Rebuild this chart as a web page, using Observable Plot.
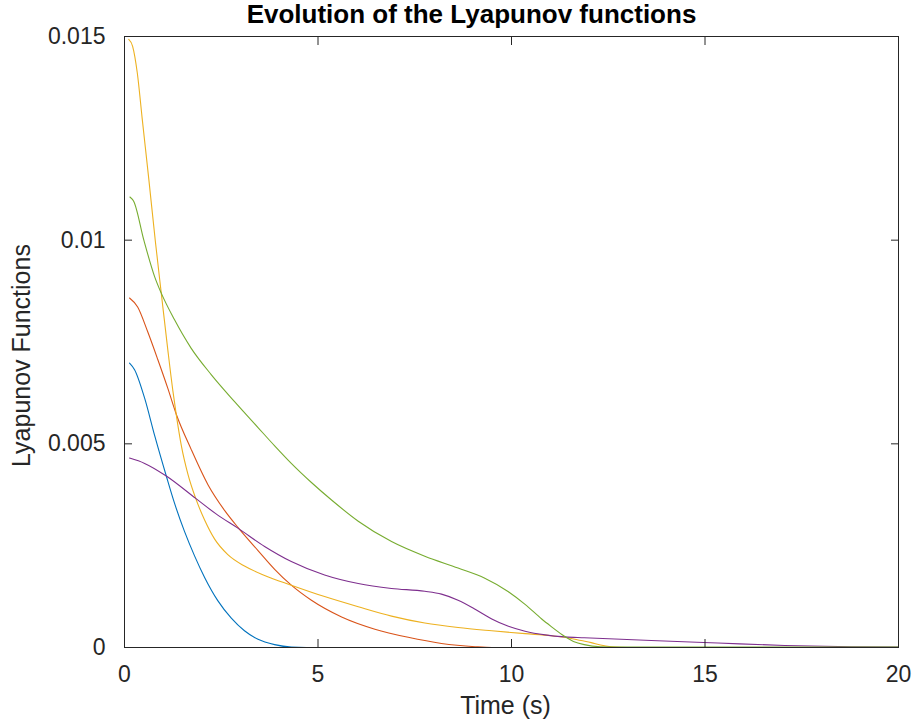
<!DOCTYPE html>
<html><head><meta charset="utf-8">
<script src="https://cdn.jsdelivr.net/npm/d3@7"></script>
<script src="https://cdn.jsdelivr.net/npm/@observablehq/plot@0.6"></script>
<style>body{margin:0;background:#fff} svg{display:block}</style>
</head><body><div id="chart"></div>
<script>
const titleText = "Evolution of the Lyapunov functions";
const xLabel = "Time (s)";
const yLabel = "Lyapunov Functions";
const xTicks = [0, 5, 10, 15, 20];
const xTickLabels = ["0", "5", "10", "15", "20"];
const yTicks = [0, 0.005, 0.01, 0.015];
const yTickLabels = ["0", "0.005", "0.01", "0.015"];

const seriesNames = ["V1", "V2", "V3", "V4", "V5"];
const seriesColors = ["#0072BD", "#D95319", "#EDB120", "#7E2F8E", "#77AC30"];

const t1 = [0.13, 0.26, 0.52, 0.78, 1.08, 1.29, 1.55, 1.81, 2.07, 2.41, 2.76, 3.1, 3.45, 3.88, 4.31, 4.7, 6, 10, 20];
const v1 = [0.00698, 0.00682, 0.00612, 0.0052, 0.00421, 0.00355, 0.00285, 0.00225, 0.00172, 0.00115, 0.00072, 0.00041, 0.0002, 0.00007, 0.00001, 0, 0, 0, 0];

const t2 = [0.13, 0.34, 0.6, 0.86, 1.12, 1.34, 1.72, 2.16, 2.59, 2.93, 3.45, 3.88, 4.31, 4.83, 5.61, 6.47, 7.33, 8.19, 9.06, 9.5, 10, 15, 20];
const v2 = [0.00858, 0.00836, 0.00775, 0.00707, 0.00636, 0.00572, 0.00487, 0.00399, 0.00336, 0.00295, 0.00238, 0.00192, 0.00153, 0.00116, 0.00075, 0.00045, 0.00025, 0.0001, 0.00002, 0, 0, 0, 0];

const t3 = [0.11, 0.21, 0.33, 0.46, 0.63, 0.8, 0.95, 1.12, 1.25, 1.34, 1.47, 1.64, 1.84, 2.07, 2.33, 2.67, 3.1, 3.62, 4.31, 5.17, 6.04, 6.9, 7.76, 8.62, 9.49, 10.35, 11.02, 11.45, 11.8, 12.06, 12.3, 12.57, 13, 20];
const v3 = [0.01493, 0.01476, 0.01411, 0.01296, 0.01148, 0.00995, 0.0087, 0.0073, 0.0063, 0.0057, 0.00495, 0.00425, 0.00366, 0.00313, 0.00266, 0.00228, 0.002, 0.00177, 0.00153, 0.00125, 0.001, 0.00077, 0.0006, 0.00049, 0.00041, 0.00034, 0.00029, 0.00024, 0.00017, 0.00012, 0.00006, 0.00002, 0, 0];

const t4 = [0.13, 0.52, 1.08, 1.84, 2.41, 2.93, 3.62, 4.31, 5.17, 6.04, 6.9, 7.76, 8.19, 8.62, 9.06, 9.49, 9.92, 10.35, 10.87, 11.38, 11.88, 13.61, 15.33, 17.06, 18.78, 20];
const v4 = [0.00465, 0.00452, 0.00421, 0.00366, 0.00325, 0.00293, 0.00248, 0.00211, 0.00178, 0.00157, 0.00145, 0.00138, 0.00131, 0.00116, 0.00094, 0.0007, 0.00052, 0.0004, 0.00031, 0.00026, 0.00024, 0.00017, 0.00011, 0.00005, 0.00002, 0.00001];

const t5 = [0.14, 0.24, 0.5, 0.78, 0.95, 1.29, 1.72, 2.24, 2.85, 3.45, 3.88, 4.31, 4.83, 5.35, 6.04, 6.9, 7.76, 8.62, 9.31, 9.92, 10.35, 10.78, 11.02, 11.3, 11.6, 11.88, 12.3, 13, 20];
const v5 = [0.01106, 0.01095, 0.01, 0.0091, 0.0087, 0.00805, 0.00735, 0.0067, 0.00603, 0.0054, 0.00495, 0.00452, 0.00405, 0.00362, 0.0031, 0.0026, 0.00224, 0.00195, 0.0017, 0.00137, 0.00106, 0.0007, 0.00052, 0.00032, 0.00015, 0.00007, 0.00002, 0.00001, 0.00001];

const seriesT = [t1, t2, t3, t4, t5];
const seriesV = [v1, v2, v3, v4, v5];
const rows = seriesNames.flatMap((name, k) => seriesT[k].map((t, i) => ({series: name, t, v: seriesV[k][i]})));

const ink = "#262626";
const font = "'Liberation Sans', Arial, Helvetica, sans-serif";
const fmtY = d => yTickLabels[yTicks.indexOf(d)] ?? String(d);
const fmtX = d => xTickLabels[xTicks.indexOf(d)] ?? String(d);
const blank = () => "";

const chart = Plot.plot({
  width: 914,
  height: 723,
  marginLeft: 124,
  marginRight: 16,
  marginTop: 36,
  marginBottom: 76,
  style: {fontFamily: font, fontSize: "23px", color: ink, background: "#fff"},
  x: {domain: [0, 20]},
  y: {domain: [0, 0.015]},
  color: {domain: seriesNames, range: seriesColors},
  marks: [
    Plot.line(rows, {x: "t", y: "v", z: "series", stroke: "series", curve: "monotone-x", strokeWidth: 1.1}),
    Plot.frame({stroke: ink, strokeWidth: 1}),
    Plot.axisX(xTicks, {anchor: "bottom", tickSize: 0, tickPadding: 18, tickFormat: fmtX, label: null, fontSize: 23, fill: ink}),
    Plot.axisX(xTicks, {anchor: "bottom", tickSize: -8, tickFormat: blank, label: null, stroke: ink}),
    Plot.axisX(xTicks, {anchor: "top", tickSize: -8, tickFormat: blank, label: null, stroke: ink}),
    Plot.axisY(yTicks, {anchor: "left", tickSize: 0, tickPadding: 19, tickFormat: fmtY, label: null, fontSize: 23, fill: ink}),
    Plot.axisY(yTicks, {anchor: "left", tickSize: -8, tickFormat: blank, label: null, stroke: ink}),
    Plot.axisY(yTicks, {anchor: "right", tickSize: -8, tickFormat: blank, label: null, stroke: ink}),
    Plot.text([titleText], {frameAnchor: "top", textAnchor: "middle", dx: -40, dy: -13.3, lineAnchor: "bottom", fontWeight: "bold", fontSize: 26, fill: "#000"}),
    Plot.text([xLabel], {frameAnchor: "bottom", textAnchor: "middle", dx: -6, dy: 66, lineAnchor: "bottom", fontSize: 25, fill: ink}),
    Plot.text([yLabel], {frameAnchor: "left", textAnchor: "middle", rotate: -90, dx: -94.7, dy: 13.5, lineAnchor: "bottom", fontSize: 25, fill: ink})
  ]
});
document.getElementById("chart").appendChild(chart);
</script>
</body></html>
